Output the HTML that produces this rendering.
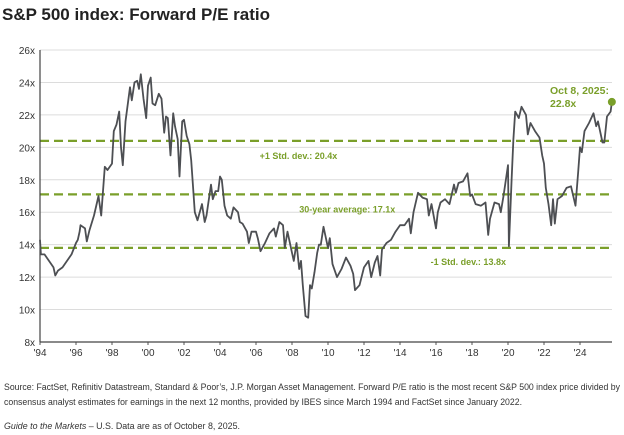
<!DOCTYPE html>
<html><head><meta charset="utf-8"><style>
body{margin:0;background:#fff;}
svg{display:block;font-family:"Liberation Sans",sans-serif;}
</style></head><body>
<svg id="chart" width="624" height="435" viewBox="0 0 624 435">
<text x="2" y="20" font-size="17" font-weight="bold" fill="#222">S&amp;P 500 index: Forward P/E ratio</text>
<g id="grid"></g><g id="refs"></g><g id="axes"></g><g id="series"></g>
<text x="550" y="94" font-size="10.5" font-weight="bold" fill="#7a9f2a">Oct 8, 2025:</text>
<text x="550" y="107" font-size="10.5" font-weight="bold" fill="#7a9f2a">22.8x</text>
<text x="4" y="390" font-size="9" fill="#333" textLength="616" lengthAdjust="spacingAndGlyphs">Source: FactSet, Refinitiv Datastream, Standard &amp; Poor’s, J.P. Morgan Asset Management. Forward P/E ratio is the most recent S&amp;P 500 index price divided by</text>
<text x="4" y="405" font-size="9" fill="#333" textLength="518" lengthAdjust="spacingAndGlyphs">consensus analyst estimates for earnings in the next 12 months, provided by IBES since March 1994 and FactSet since January 2022.</text>
<text x="4" y="429" font-size="9" fill="#333" textLength="236" lengthAdjust="spacingAndGlyphs"><tspan font-style="italic">Guide to the Markets</tspan> – U.S. Data are as of October 8, 2025.</text>
</svg>
<script>
const yTicks=[8,10,12,14,16,18,20,22,24,26];
const xTickYears=[1994,1996,1998,2000,2002,2004,2006,2008,2010,2012,2014,2016,2018,2020,2022,2024];
const refValues=[20.4,17.1,13.8];
const refLabels=["+1 Std. dev.: 20.4x","30-year average: 17.1x","-1 Std. dev.: 13.8x"];
const refLabelYears=[2006.2,2008.4,2015.7];
const years=[1994.0,1994.05,1994.25,1994.5,1994.75,1994.85,1995.0,1995.25,1995.5,1995.75,1996.0,1996.1,1996.2,1996.25,1996.5,1996.6,1996.75,1997.0,1997.25,1997.4,1997.6,1997.75,1998.0,1998.1,1998.25,1998.4,1998.5,1998.6,1998.75,1999.0,1999.1,1999.25,1999.4,1999.5,1999.6,1999.75,1999.9,2000.0,2000.15,2000.25,2000.4,2000.6,2000.75,2000.9,2001.0,2001.1,2001.25,2001.4,2001.5,2001.65,2001.75,2001.9,2002.0,2002.15,2002.3,2002.4,2002.6,2002.75,2003.0,2003.15,2003.25,2003.5,2003.6,2003.75,2003.9,2004.0,2004.1,2004.25,2004.4,2004.6,2004.75,2005.0,2005.1,2005.25,2005.5,2005.6,2005.75,2006.0,2006.1,2006.25,2006.5,2006.75,2007.0,2007.1,2007.3,2007.5,2007.6,2007.75,2008.0,2008.1,2008.25,2008.4,2008.5,2008.6,2008.75,2008.9,2009.0,2009.1,2009.25,2009.4,2009.5,2009.6,2009.75,2010.0,2010.1,2010.25,2010.5,2010.75,2011.0,2011.25,2011.4,2011.5,2011.75,2012.0,2012.25,2012.4,2012.6,2012.75,2012.9,2013.0,2013.25,2013.5,2013.75,2014.0,2014.25,2014.5,2014.6,2014.75,2015.0,2015.25,2015.5,2015.6,2015.75,2016.0,2016.1,2016.25,2016.5,2016.75,2017.0,2017.1,2017.25,2017.5,2017.75,2017.9,2018.0,2018.2,2018.5,2018.75,2018.9,2019.0,2019.25,2019.5,2019.6,2019.75,2020.0,2020.05,2020.2,2020.3,2020.4,2020.6,2020.75,2021.0,2021.1,2021.25,2021.5,2021.75,2021.9,2022.0,2022.1,2022.25,2022.4,2022.5,2022.6,2022.75,2023.0,2023.25,2023.5,2023.75,2023.9,2024.0,2024.1,2024.25,2024.5,2024.75,2024.9,2025.0,2025.25,2025.35,2025.5,2025.7,2025.77];
const values=[14.3,13.4,13.4,13.0,12.6,12.1,12.4,12.6,13.0,13.4,14.1,14.3,14.8,15.2,15.0,14.2,14.9,15.8,17.0,15.8,18.8,18.6,19.0,21.0,21.4,22.2,20.0,18.9,21.6,23.7,22.9,24.0,24.1,23.6,24.5,23.0,21.8,23.8,24.3,22.7,22.6,23.3,23.0,20.9,21.9,21.8,19.5,22.1,21.3,20.5,18.2,21.6,21.7,20.7,20.2,19.2,16.0,15.5,16.5,15.4,15.8,17.7,16.8,17.3,17.3,18.2,18.0,16.4,15.8,15.6,16.3,16.0,15.4,15.3,14.8,14.1,14.8,14.8,14.4,13.6,14.1,14.7,15.0,14.5,15.4,15.2,13.8,14.8,13.5,13.0,14.1,12.5,13.0,11.5,9.6,9.5,11.5,11.3,12.3,13.5,14.0,14.0,15.1,13.8,14.4,12.8,12.0,12.5,13.2,12.7,12.2,11.2,11.5,12.6,13.0,12.0,12.9,13.3,12.1,13.7,14.1,14.3,14.8,15.2,15.2,15.6,14.7,16.0,17.2,16.9,16.8,15.8,16.5,15.0,16.0,16.6,16.8,16.5,17.7,17.2,17.8,17.9,18.4,17.0,17.1,16.5,16.4,16.6,14.6,15.6,16.6,16.5,16.0,17.0,18.9,13.9,18.0,20.5,22.2,21.8,22.5,22.0,20.8,21.5,21.0,20.6,19.5,19.0,17.5,16.5,15.2,16.8,15.3,16.8,17.0,17.5,17.6,16.4,18.5,20.0,19.7,21.0,21.5,22.1,21.3,21.6,20.3,20.3,21.9,22.2,22.8];

const NS="http://www.w3.org/2000/svg";
const X0=40,X1=612,Y0=342,Y1=50;
const sx=y=>X0+(y-1994)*18;
const sy=v=>Y0-(v-8)*(Y0-Y1)/18;
function mk(tag,attrs,parent){const e=document.createElementNS(NS,tag);for(const k in attrs)e.setAttribute(k,attrs[k]);parent.appendChild(e);return e;}
const grid=document.getElementById('grid'),axes=document.getElementById('axes'),refs=document.getElementById('refs'),series=document.getElementById('series');
yTicks.forEach(v=>{
  if(v>8){const l=mk('line',{x1:X0,x2:X1,y1:sy(v),y2:sy(v),stroke:'#dcdcdc','stroke-width':1},grid);
  
  }
  const t=mk('text',{x:X0-5,y:sy(v)+4,'font-size':10,'text-anchor':'end',fill:'#333'},axes);
  t.textContent=v+'x';
  
  
});
xTickYears.forEach(y=>{
  mk('line',{x1:sx(y),x2:sx(y),y1:Y0,y2:Y0+3,stroke:'#555'},axes);
  const t=mk('text',{x:sx(y),y:Y0+14,'font-size':10,'text-anchor':'middle',fill:'#333'},axes);
  t.textContent="'"+String(y).slice(2);
  
  
});
const ya=mk('line',{x1:X0,x2:X0,y1:Y1,y2:Y0,stroke:'#444','stroke-width':1.2},axes);


const xa=mk('line',{x1:X0,x2:X1,y1:Y0,y2:Y0,stroke:'#444','stroke-width':1.2},axes);


refValues.forEach((v,i)=>{
  const l=mk('line',{x1:X0,x2:X1,y1:sy(v),y2:sy(v),stroke:'#7a9f2a','stroke-width':2.2,'stroke-dasharray':'9,5'},refs);
  
  
  const t=mk('text',{x:sx(refLabelYears[i]),y:sy(v)+(i==2?17:18),'font-size':9,'font-weight':'bold',fill:'#7a9f2a'},refs);
  t.textContent=refLabels[i];
  
  
});
const d=years.map((y,i)=>(i?'L':'M')+sx(y).toFixed(1)+','+sy(values[i]).toFixed(1)).join(' ');
const p=mk('path',{d:d,fill:'none',stroke:'#4d4f53','stroke-width':1.8,'stroke-linejoin':'round'},series);


const n=years.length-1;
const c=mk('circle',{cx:sx(years[n]),cy:sy(values[n]),r:4,fill:'#7a9f2a'},series);


</script>
</body></html>
